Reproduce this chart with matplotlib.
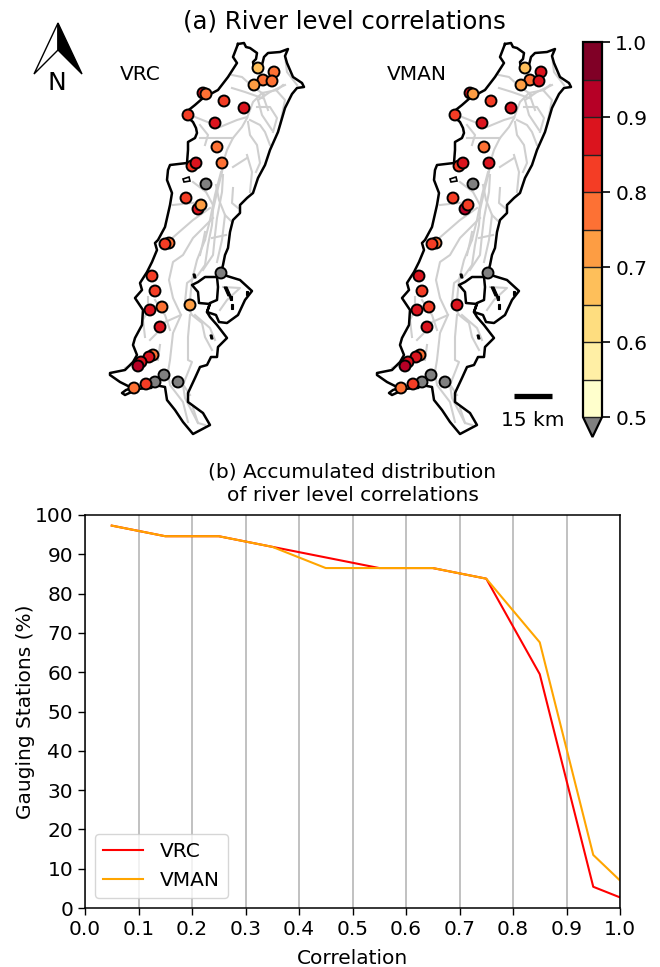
import matplotlib
matplotlib.use("Agg")
import matplotlib.pyplot as plt
from matplotlib.colors import BoundaryNorm, ListedColormap
from matplotlib.cm import ScalarMappable
from matplotlib.patches import Polygon
import numpy as np

# map shapes and stations are in map units
outline = [(238,44),(244,43),(246,47),(250,48),(257,53),(256,59),(253,62),(254,68),(257,72),(262,65),(264,57),(268,53),
           (280,52),(288,49),(285,56),(287,63),(293,77),(302,83),(304,87),(297,88),(292,94),(285,108),(278,132),(270,150),
           (265,165),(258,178),(253,193),(247,198),(240,205),(240,213),(233,220),(230,232),(228,248),(225,255),(223,265),(221,273),
           (227,276),(240,280),(252,291),(245,300),(238,315),(227,323),(219,322),(216,315),(207,312),(210,303),(217,300),
           (218,287),(217,277),(205,277),(198,282),(192,285),(198,292),(199,303),(210,304),(207,312),(210,317),(217,325),(227,338),
           (218,347),(217,357),(211,357),(207,365),(200,367),(195,378),(188,393),(188,402),(203,413),(210,425),(193,434),
           (183,422),(175,410),(167,400),(165,387),(155,385),(151,388),(147,388),(138,389),(125,395),(122,393),(126,390),(132,388),
           (120,382),(110,375),(110,373),(125,370),(133,362),(137,355),(133,345),(135,338),(142,325),(143,310),(135,298),
           (142,290),(140,283),(147,272),(152,262),(157,250),(155,243),(158,240),(165,227),(170,205),(172,193),(167,180),
           (168,170),(170,165),(187,163),(188,150),(188,142),(195,138),(197,133),(196,128),(193,122),(186,116),(185,113),(195,105),
           (203,98),(218,90),(228,77),(237,63),(233,57),(238,44)]
lake_1 = [(183,179),(189,177),(190,181),(184,182)]
speck_1 = [(193,274),(195,274),(196,278),(194,278)]
speck_2 = [(224,287),(227,287),(231,296),(228,296)]
speck_3 = [(229,296),(232,296),(232,300),(230,300)]
speck_4 = [(231,304),(233,304),(233,309),(231,309)]
speck_5 = [(246,291),(248,291),(248,295),(246,295)]
speck_6 = [(210,335),(212,335),(213,339),(211,339)]
specks = [speck_1, speck_2, speck_3, speck_4, speck_5, speck_6]

rivers = [
    [(247,118),(242,127),(233,138),(227,150),(223,163),(222,172),(218,188),(213,210),(212,225),(208,245),(205,265),(198,275),(187,283),(185,302),(192,315),(202,323),(205,337),(212,350)],
    [(223,175),(222,192),(217,218),(215,235),(213,255),(203,270)],
    [(247,118),(253,102),(262,93),(277,90),(283,85)],
    [(232,75),(242,77),(253,87),(265,95)],
    [(285,56),(287,72),(297,85)],
    [(257,107),(270,107),(277,118),(273,132)],
    [(250,120),(260,125),(265,132),(270,145)],
    [(195,117),(220,127),(237,120),(247,117)],
    [(200,138),(213,138),(233,138)],
    [(248,122),(250,135),(257,145),(260,163),(256,172)],
    [(233,167),(247,158)],
    [(247,155),(252,172),(250,192)],
    [(233,188),(232,203),(238,208)],
    [(210,208),(193,220),(170,240)],
    [(173,205),(192,203),(205,202)],
    [(213,218),(193,238),(183,255),(173,262),(169,280),(173,298),(181,315),(163,323)],
    [(181,315),(173,333),(170,360),(168,372),(170,385),(183,402),(188,422)],
    [(193,182),(206,192),(213,205)],
    [(205,232),(203,242),(200,255)],
    [(212,238),(226,235)],
    [(190,315),(188,337),(188,360),(192,362),(183,385),(185,398),(198,423),(205,425)],
    [(148,297),(148,310),(143,320),(145,337)],
    [(223,287),(240,288),(227,300),(220,310)],
    [(125,368),(138,362)],
    [(193,408),(198,423)],
    [(285,85),(270,92),(258,100)],
    [(221,172),(215,195),(210,220),(205,240)],
    [(216,185),(219,200),(225,215),(222,240),(217,262)],
    [(225,215),(232,222)],
    [(205,240),(197,260),(192,280),(190,300)],
    [(232,88),(245,92),(262,98)],
    [(258,100),(262,115),(272,130)],
    [(276,90),(285,100),(280,125)],
    [(262,93),(268,110)],
    [(200,125),(208,135),(205,145)],
    [(155,300),(165,315),(170,330)],
    [(150,340),(165,325)],
    [(195,315),(210,328),(215,340)],
    [(180,380),(190,395)],
    [(160,345),(158,360)],
]

station_x = [203,206,224,244,188,215,258,274,263,272,254,217,222,192,196,206,186,198,201,
             169,165,152,155,162,150,190,221,160,153,149,141,138,164,178,155,146,134]
station_y = [93,94,101,108,115,123,68,72,80,81,85,147,163,166,163,184,198,209,205,
             243,244,276,291,307,310,305,273,327,355,357,362,366,375,382,382,384,388]
vrc_corr = [0.87,0.77,0.82,0.87,0.82,0.87,0.68,0.77,0.77,0.77,0.72,0.77,0.77,0.82,0.87,0.3,0.82,0.87,0.72,
            0.77,0.82,0.82,0.82,0.77,0.87,0.72,0.3,0.87,0.77,0.87,0.87,0.92,0.3,0.3,0.3,0.82,0.77]
vman_corr = [0.87,0.72,0.82,0.87,0.82,0.87,0.68,0.87,0.77,0.87,0.72,0.77,0.87,0.82,0.87,0.3,0.82,0.92,0.82,
             0.77,0.82,0.87,0.82,0.82,0.87,0.87,0.3,0.87,0.77,0.87,0.87,0.92,0.3,0.3,0.3,0.82,0.77]

levels = [0.5,0.55,0.6,0.65,0.7,0.75,0.8,0.85,0.9,0.95,1.0]
cbar_ticks = [0.5,0.6,0.7,0.8,0.9,1.0]

corr_bins = [0.05,0.15,0.25,0.35,0.45,0.55,0.65,0.75,0.85,0.95,1.0]
vrc_accum = [97.3,94.6,94.6,91.9,89.2,86.5,86.5,83.8,59.5,5.4,2.7]
vman_accum = [97.3,94.6,94.6,91.9,86.5,86.5,86.5,83.8,67.6,13.5,7.0]

W, H = 660, 967

def px_axes(fig, x0, y0, x1, y1):
    # axes from pixel box, y0 is the top
    return fig.add_axes([x0/W, 1-y1/H, (x1-x0)/W, (y1-y0)/H])

fig = plt.figure(figsize=(W/100, H/100), dpi=100)

base = plt.get_cmap("YlOrRd", 10)
cmap = ListedColormap([base(i) for i in range(10)])
cmap.set_under("#808080")
norm = BoundaryNorm(levels, 10)

def draw_map(ax, corr, xoff):
    ax.set_xlim(xoff, xoff + (ax.get_position().width*W))
    ax.set_ylim(450, 0)
    ax.axis("off")
    for r in rivers:
        rx, ry = zip(*r)
        ax.plot(rx, ry, color="#cfcfcf", lw=1.5, zorder=1)
    ox, oy = zip(*outline)
    ax.plot(ox, oy, color="k", lw=1.8, zorder=2)
    ax.add_patch(Polygon(lake_1, closed=True, fc="w", ec="k", lw=1.2, zorder=2))
    for s in specks:
        ax.add_patch(Polygon(s, closed=True, fc="k", ec="k", lw=0.8, zorder=2))
    ax.scatter(station_x, station_y, c=corr, cmap=cmap, norm=norm, s=62,
               edgecolors="k", linewidths=1.4, zorder=3)

ax_left = px_axes(fig, 0, 0, 330, 450)
draw_map(ax_left, vrc_corr, 0)
ax_left.text(140, 74, "VRC", ha="center", va="center", fontsize=14.5)
ax_left.add_patch(Polygon([(58,23),(34,74),(58,50)], closed=True, fc="w", ec="k", lw=1))
ax_left.add_patch(Polygon([(58,23),(82,74),(58,50)], closed=True, fc="k", ec="k", lw=1))
ax_left.text(57, 83, "N", ha="center", va="center", fontsize=18)

ax_right = px_axes(fig, 330, 0, 580, 450)
draw_map(ax_right, vman_corr, 63)
ax_right.text(150, 74, "VMAN", ha="center", va="center", fontsize=14.5)
ax_right.plot([247, 285], [396, 396], color="k", lw=3.8, solid_capstyle="butt")
ax_right.text(266, 420, "15 km", ha="center", va="center", fontsize=14.5)

fig.text(344/W, 1-22/H, "(a) River level correlations", ha="center", va="center", fontsize=17.6)

cax = px_axes(fig, 583, 42, 602, 437)
cb = fig.colorbar(ScalarMappable(norm=norm, cmap=cmap), cax=cax, extend="min",
                  ticks=cbar_ticks, extendfrac=0.053, drawedges=True)
cb.minorticks_off()
cb.ax.tick_params(labelsize=14.5, length=6, width=1.2)
cb.outline.set_linewidth(1.6)
cb.dividers.set_color("#222222")
cb.dividers.set_linewidth(1.0)

ax = px_axes(fig, 85, 515, 620, 908)
ax.plot(corr_bins, vrc_accum, color="red", lw=1.5, label="VRC")
ax.plot(corr_bins, vman_accum, color="orange", lw=1.5, label="VMAN")
ax.set_xlim(0, 1)
ax.set_ylim(0, 100)
ax.set_xticks(np.arange(0, 1.01, 0.1))
ax.set_yticks(np.arange(0, 101, 10))
ax.grid(True, axis="x", color="#b0b0b0", lw=1.1)
ax.tick_params(labelsize=14.5, length=5, width=1)
ax.set_xlabel("Correlation", fontsize=14.5, labelpad=7)
ax.set_ylabel("Gauging Stations (%)", fontsize=14.5, labelpad=0)
ax.set_title("(b) Accumulated distribution\nof river level correlations", fontsize=14.5, pad=10, linespacing=1.3)
ax.legend(loc="lower left", fontsize=14.5, handlelength=2)
for sp in ax.spines.values():
    sp.set_linewidth(1.1)

fig.savefig("out.png", dpi=100)
